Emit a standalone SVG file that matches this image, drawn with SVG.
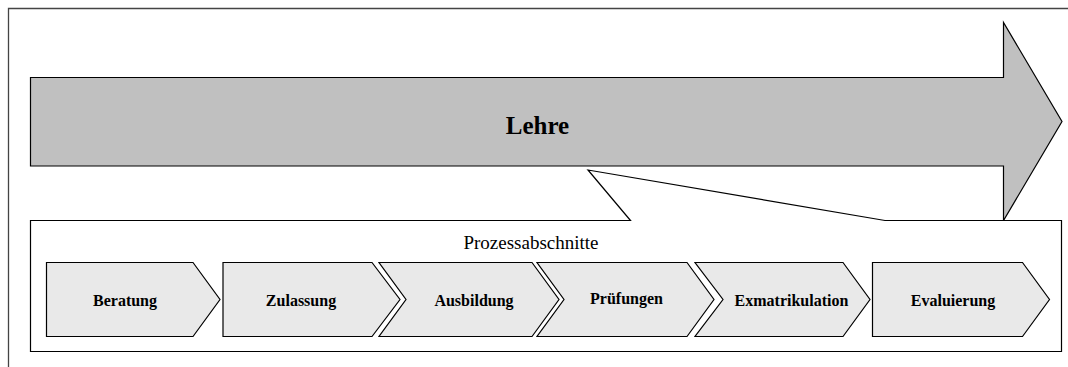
<svg xmlns="http://www.w3.org/2000/svg" width="1068" height="367" viewBox="0 0 1068 367">
<style>
.frame{fill:none;stroke:#444;stroke-width:1.3}
.big{fill:#c0c0c0;stroke:#000;stroke-width:1.2}
.call{fill:#fff;stroke:#000;stroke-width:1.2}
.step{fill:#e9e9e9;stroke:#000;stroke-width:1.2}
text{font-family:'Liberation Serif','DejaVu Serif',serif;fill:#000;text-anchor:middle}
.lbl{font-weight:bold;font-size:16px}
.title{font-weight:bold;font-size:25px}
.sub{font-size:19px}
</style>
<rect width="1068" height="367" fill="#fff"/>
<path class="frame" d="M8.5,367 L8.5,8.5 L1068,8.5"/>
<g id="lehre">
<path class="big" d="M30.5,77.5 L1003.5,77.5 L1003.5,22.5 L1062,121.5 L1003.5,220.5 L1003.5,166 L30.5,166 Z"/>
<text class="title" x="537.5" y="133.5" font-family="Liberation Serif, serif">Lehre</text>
</g>
<g id="prozessabschnitte">
<path class="call" d="M30.5,220.5 L630.5,220.5 L588,170 L885,220.5 L1061.5,220.5 L1061.5,351.5 L30.5,351.5 Z"/>
<text class="sub" x="531" y="249" font-family="Liberation Serif, serif">Prozessabschnitte</text>
</g>
<g id="beratung">
<path class="step" d="M46.5,262.5 L193,262.5 L220,299.5 L193,336.5 L46.5,336.5 Z"/>
<text class="lbl" x="125" y="305.5" font-family="Liberation Serif, serif">Beratung</text>
</g>
<g id="zulassung">
<path class="step" d="M223,262.5 L372,262.5 L400,299.5 L372,336.5 L223,336.5 Z"/>
<text class="lbl" x="301" y="305.5" font-family="Liberation Serif, serif">Zulassung</text>
</g>
<g id="ausbildung">
<path class="step" d="M379,262.5 L532,262.5 L559,299.5 L532,336.5 L379,336.5 L406,299.5 Z"/>
<text class="lbl" x="474" y="305.5" font-family="Liberation Serif, serif">Ausbildung</text>
</g>
<g id="pruefungen">
<path class="step" d="M537,262.5 L687,262.5 L714,299.5 L687,336.5 L537,336.5 L564,299.5 Z"/>
<text class="lbl" x="626.5" y="304" font-family="Liberation Serif, serif">Prüfungen</text>
</g>
<g id="exmatrikulation">
<path class="step" d="M695,262.5 L843,262.5 L870,299.5 L843,336.5 L695,336.5 L723,299.5 Z"/>
<text class="lbl" x="791.5" y="305.5" font-family="Liberation Serif, serif">Exmatrikulation</text>
</g>
<g id="evaluierung">
<path class="step" d="M872.5,262.5 L1022.5,262.5 L1049.5,299.5 L1022.5,336.5 L872.5,336.5 Z"/>
<text class="lbl" x="953" y="305.5" font-family="Liberation Serif, serif">Evaluierung</text>
</g>
<g id="connectors"></g>
</svg>
